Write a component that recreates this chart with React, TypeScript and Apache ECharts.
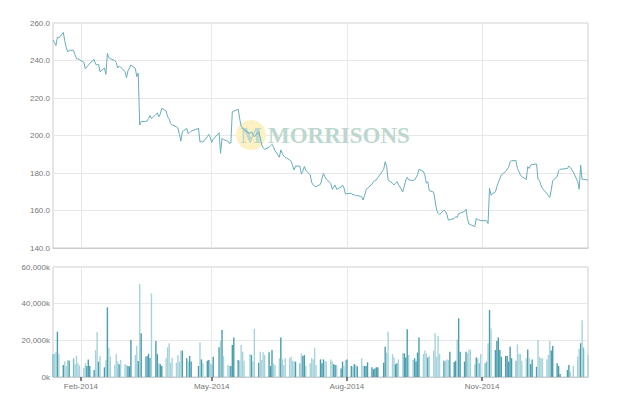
import { useEffect, useRef } from 'react';
import * as echarts from 'echarts';

// Trading calendar (LSE): weekdays from start to end, minus these holidays
const startDate = '2014-01-13';
const endDate = '2015-01-12';
const holidays = ['2014-04-18', '2014-04-21', '2014-05-05', '2014-05-26', '2014-08-25', '2014-12-25', '2014-12-26', '2015-01-01'];

// Quarterly tick marks on the date axis
const tickDates = ['2014-02-01', '2014-05-01', '2014-08-01', '2014-11-01'];
const monthNames = ['Jan', 'Feb', 'Mar', 'Apr', 'May', 'Jun', 'Jul', 'Aug', 'Sep', 'Oct', 'Nov', 'Dec'];

// Close price (pence), one per trading day, grouped by week
const closes = [
  251, 249.5, 248, 252.5, 252,
  255, 250.5, 247, 244.5, 245.5,
  245.5, 243, 241, 240.8, 240.5,
  239, 235.5, 236.5, 237.5, 238.5,
  240.6, 238, 237.6, 238, 234,
  236, 232.6, 243.8, 241.5, 241,
  240, 239, 236, 237, 236.5,
  234, 230.8, 234.5, 236, 237.6,
  235.8, 231.4, 233.3, 205.6, 207.5,
  207.5, 207.7, 209, 210.6, 208.9,
  211.3, 212, 210, 211.5, 214.5,
  213, 210, 208.9, 206.5, 205.6,
  204.7, 204, 200.6, 197, 202,
  203.8, 201, 201.5, 202.3,
  203.8, 196.5, 197, 196.5,
  199.4, 200.6, 199, 196.3, 198,
  201.5, 190.5, 198.5, 197.8,
  197, 195.8, 196, 212.7, 213,
  214, 209, 205, 204, 203,
  201, 202, 200.5, 199.4,
  202, 199, 195, 193.5, 192.6,
  193.7, 194.5, 195.3, 194, 192,
  188.4, 192.3, 190.5, 189, 188.4,
  187, 186.3, 184, 181.6, 183.7,
  183.7, 179.5, 181, 183.5, 181.5,
  179, 175, 173.6, 173, 172.7,
  174, 177.2, 179.8, 178, 176.6,
  174.5, 171.3, 172.5, 173.6, 171.3,
  172.5, 173.6, 172, 168.8, 169,
  169.2, 168.3, 168.5, 167.8, 168,
  167.4, 165.6, 168, 171, 172,
  174, 175.4, 176, 176.3, 177.5,
  182, 186, 183.5, 176.3,
  174.5, 173.6, 174.5, 175.4, 174,
  170, 173, 176.3, 177.7, 176.3,
  176, 176.3, 177.5, 179, 182,
  180.8, 179, 174.5, 175.4, 170.6,
  169.8, 165, 160.3, 158.5, 157.7,
  160.3, 159.5, 158, 154.9, 155,
  155.8, 156.7, 156.3, 158.4, 158.5,
  159.5, 160.8, 155.4, 152.8, 152.5,
  151.4, 155.8, 155, 155, 154.6,
  154.6, 154.6, 153, 171.8, 168.2,
  170, 172.7, 175, 177, 179,
  180.8, 182, 183, 186, 186.6,
  186.6, 182.4, 180.8, 179, 178,
  176.6, 183.4, 182.4, 184.2, 184.5,
  184.8, 176.6, 176, 173.5, 171.8,
  169.1, 168, 167, 171, 176,
  178, 181.2, 182,
  182.4, 183.7, 183, 180.5,
  175.4, 171.3, 184.2, 176.6, 176.6,
  176.3,
];

// Volume (thousands of shares), one per trading day, grouped by week
const volumes = [
  12500, 12500, 13800, 24700, 12500,
  6500, 8400, 6000, 9300, 8900,
  10200, 7000, 11500, 7500, 6200,
  5000, 7500, 6000, 9600, 6000,
  3800, 14700, 24400, 8400, 11500,
  5300, 9300, 38000, 16000, 11000,
  6500, 12500, 8400, 7000, 9300,
  7000, 6500, 6000, 5800, 20200,
  12000, 17000, 8700, 50700, 23800,
  11000, 11500, 12700, 10400, 45600,
  19600, 12500, 7500, 7000, 6000,
  10200, 16200, 18400, 7800, 10500,
  7800, 12000, 8400, 14400, 14400,
  10200, 8400, 11500, 8400,
  6000, 19000, 9600, 7500,
  8900, 9300, 7500, 6800, 11000,
  16200, 19600, 25600, 11500,
  6500, 6000, 6000, 17500, 21500,
  9300, 8900, 17500, 13800, 8900,
  12500, 12000, 8400, 26200,
  7800, 13800, 9300, 13500, 12000,
  13500, 6000, 14700, 7500, 6500,
  10200, 21500, 9800, 6500, 10200,
  10200, 11000, 8900, 8400, 8400,
  7500, 12900, 11500, 12000, 6000,
  7500, 10200, 9600, 16000, 6500,
  9600, 7500, 9600, 8900, 8400,
  9600, 8400, 7000, 6500, 6500,
  4700, 8400, 6000, 9300, 9600,
  6000, 5600, 7000, 6500, 5800,
  10200, 6000, 6000, 6000, 8000,
  5300, 4200, 4700, 5300, 5300,
  7800, 16500, 13300, 24700,
  12500, 10700, 7000, 7500, 9600,
  12900, 12900, 10700, 26000, 12000,
  9300, 10200, 8400, 13300, 21600,
  12500, 14400, 12900, 10700, 11500,
  14400, 23800, 11000, 22400, 12500,
  8900, 8900, 9600, 9300, 13800,
  8200, 8900, 20500, 32000, 13800,
  8400, 13800, 12900, 15000, 15000,
  7000, 10700, 10200, 7500, 12500,
  7500, 8400, 18400, 36500, 26500,
  14700, 19600, 21600, 14700, 11000,
  11500, 11500, 8400, 16500, 10200,
  8900, 17800, 12500, 12500, 8900,
  10200, 15000, 10200, 7000, 9600,
  5600, 20200, 11000, 10200, 10200,
  9600, 12000, 19600, 14400, 16900,
  7500, 6000, 1600,
  3800, 6500, 2900, 6000,
  11000, 15300, 18400, 31000, 16000,
  12000,
];

const DAY = 86400000;
function tradingDays(): number[] {
  const out: number[] = [];
  const end = Date.parse(endDate + 'T00:00:00Z');
  for (let t = Date.parse(startDate + 'T00:00:00Z'); t <= end; t += DAY) {
    const d = new Date(t);
    const wd = d.getUTCDay();
    const iso = d.toISOString().slice(0, 10);
    if (wd === 0 || wd === 6 || holidays.includes(iso)) continue;
    out.push(t);
  }
  return out;
}

export default function App() {
  const ref = useRef<HTMLDivElement>(null);
  useEffect(() => {
    if (!ref.current) return;
    const chart = echarts.init(ref.current, null, { renderer: 'svg' });
    const dates = tradingDays();
    const ticks = tickDates.map((s) => Date.parse(s + 'T00:00:00Z'));
    const minT = dates[0];
    const maxT = dates[dates.length - 1];
    const fmtDate = (v: number) => {
      const d = new Date(v);
      return monthNames[d.getUTCMonth()] + '-' + d.getUTCFullYear();
    };
    const labelStyle = { fontSize: 8, color: '#777', fontFamily: 'Liberation Sans, Arial, sans-serif' };
    const gridLine = { show: true, lineStyle: { color: '#e8e8e8', width: 1 } };
    const textColor = '#bcd8cd';
    chart.setOption({
      animation: false,
      backgroundColor: '#ffffff',
      grid: [
        { left: 53, right: 32, top: 23, height: 225, show: true, borderColor: '#cccccc', borderWidth: 1 },
        { left: 53, right: 32, top: 267, height: 110, show: true, borderColor: '#cccccc', borderWidth: 1 },
      ],
      xAxis: [
        {
          type: 'value', gridIndex: 0, min: minT, max: maxT, scale: true,
          axisLine: { show: true, lineStyle: { color: '#cccccc' } },
          axisTick: { show: false, customValues: ticks },
          axisLabel: { show: false, customValues: ticks },
          splitLine: gridLine,
        },
        {
          type: 'value', gridIndex: 1, min: minT, max: maxT, scale: true,
          axisLine: { show: true, lineStyle: { color: '#cccccc' } },
          axisTick: { show: true, customValues: ticks, length: 4, lineStyle: { color: '#555', width: 1.5 } },
          axisLabel: { show: true, customValues: ticks, formatter: fmtDate, margin: 5, ...labelStyle },
          splitLine: gridLine,
        },
      ],
      yAxis: [
        {
          type: 'value', gridIndex: 0, min: 140, max: 260, interval: 20,
          axisLine: { show: false }, axisTick: { show: false },
          axisLabel: { formatter: (v: number) => v.toFixed(1), margin: 3, ...labelStyle },
          splitLine: gridLine,
        },
        {
          type: 'value', gridIndex: 1, min: 0, max: 60000, interval: 20000,
          axisLine: { show: false }, axisTick: { show: false },
          axisLabel: { formatter: (v: number) => v.toLocaleString('en-US') + 'k', margin: 3, ...labelStyle },
          splitLine: gridLine,
        },
      ],
      graphic: [
        { type: 'circle', silent: true, z: 1, shape: { cx: 251, cy: 135, r: 15 }, style: { fill: '#fcf1c2' } },
        {
          type: 'text', silent: true, z: 1, x: 251, y: 135,
          style: { text: 'M', fill: textColor, fontFamily: 'Liberation Serif, serif', fontWeight: 'bold', fontSize: 23, align: 'center', verticalAlign: 'middle' },
        },
        {
          type: 'text', silent: true, z: 1, x: 268, y: 135,
          style: { text: 'MORRISONS', fill: textColor, fontFamily: 'Liberation Serif, serif', fontWeight: 'bold', fontSize: 23, align: 'left', verticalAlign: 'middle' },
        },
      ],
      series: [
        {
          type: 'line', xAxisIndex: 0, yAxisIndex: 0, z: 5,
          data: dates.map((t, i) => [t, closes[i]]),
          showSymbol: false, symbol: 'none',
          lineStyle: { color: '#68adbb', width: 1 },
        },
        {
          type: 'bar', xAxisIndex: 1, yAxisIndex: 1, z: 5,
          barWidth: 1.4,
          data: dates.map((t, i) => [t, volumes[i]]),
          itemStyle: {
            color: (p: any) => {
              const i = p.dataIndex;
              if (i === 0) return '#7cbcc7';
              const d = closes[i] - closes[i - 1];
              if (d > 0) return '#4a9dad';
              if (d < 0) return '#a6d3db';
              return '#7cbcc7';
            },
          },
        },
      ],
    });
    return () => chart.dispose();
  }, []);
  return <div ref={ref} style={{ position: 'fixed', left: 0, top: 0, width: 620, height: 408 }} />;
}
